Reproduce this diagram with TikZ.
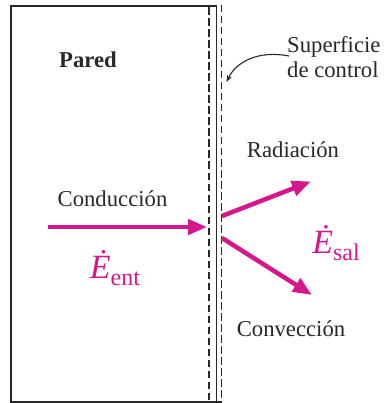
\documentclass[tikz,border=0pt]{standalone}
\usepackage{fontspec}
\setmainfont{Liberation Serif}
\usetikzlibrary{arrows.meta}
\definecolor{mag}{RGB}{212,24,140}
\definecolor{ink}{RGB}{40,40,40}
\tikzset{
  wall/.style={draw=ink,line width=2pt},
  thin/.style={draw=ink,line width=1.3pt},
  ctrl/.style={draw=ink,line width=1.4pt,dash pattern=on 7.5pt off 3.5pt},
  flow/.style={draw=mag,line width=4.5pt,-{Triangle[length=19pt,width=15pt]}},
  lbl/.style={text=ink,font=\fontsize{22.7}{26}\selectfont,inner sep=0pt},
  big/.style={text=mag,font=\fontsize{34}{40}\selectfont\itshape,inner sep=0pt}
}
\begin{document}
\begin{tikzpicture}[x=1pt,y=-1pt]
\useasboundingbox (0,0) rectangle (383,403);
\fill[white] (0,0) rectangle (383,403);
% wall
\coordinate (tl) at (11,6.5);
\coordinate (tr) at (216.5,6.5);
\coordinate (bl) at (11,401.5);
\coordinate (br) at (222,401.5);
\draw[wall] (tr) -- (tl) -- (bl) -- (br);
\coordinate (s1) at (216.5,5);
\coordinate (s2) at (216.5,401.5);
\draw[thin] (s1) -- (s2);
\coordinate (d1a) at (209,7.5);
\coordinate (d1b) at (209,401.5);
\coordinate (d2a) at (221.7,5);
\coordinate (d2b) at (221.7,401.5);
\draw[ctrl] (d1a) -- (d1b);
\draw[ctrl] (d2a) -- (d2b);
% labels
\node[lbl,font=\fontsize{22.7}{26}\selectfont\bfseries] (pared) at (88,60) {Pared};
\node[lbl,align=left,anchor=north west,font=\fontsize{22.7}{25.5}\selectfont] (sup) at (287,36) {Superficie\\de control};
\node[lbl] (rad) at (293,150) {Radiación};
\node[lbl] (cond) at (112.5,199) {Conducción};
\node[lbl] (conv) at (291,329) {Convección};
\node[big] (eent) at (115,268) {Ė\raisebox{-0.22em}{\fontsize{24}{28}\selectfont\upshape ent}};
\node[big] (esal) at (336,243) {Ė\raisebox{-0.22em}{\fontsize{24}{28}\selectfont\upshape sal}};
% control surface pointer
\coordinate (pa) at (289,56);
\coordinate (pb) at (226.5,82);
\draw[draw=ink,line width=1.1pt,-{Stealth[length=7pt,width=5pt]}] (pa) .. controls (258,50) and (236,62) .. (pb);
% flows
\coordinate (c0) at (48,227);
\coordinate (c1) at (207,227);
\draw[flow] (c0) -- (c1);
\coordinate (r0) at (222,216);
\coordinate (r1) at (311,181.5);
\draw[flow] (r0) -- (r1);
\coordinate (v0) at (222,238);
\coordinate (v1) at (312,295);
\draw[flow] (v0) -- (v1);
\end{tikzpicture}
\end{document}
